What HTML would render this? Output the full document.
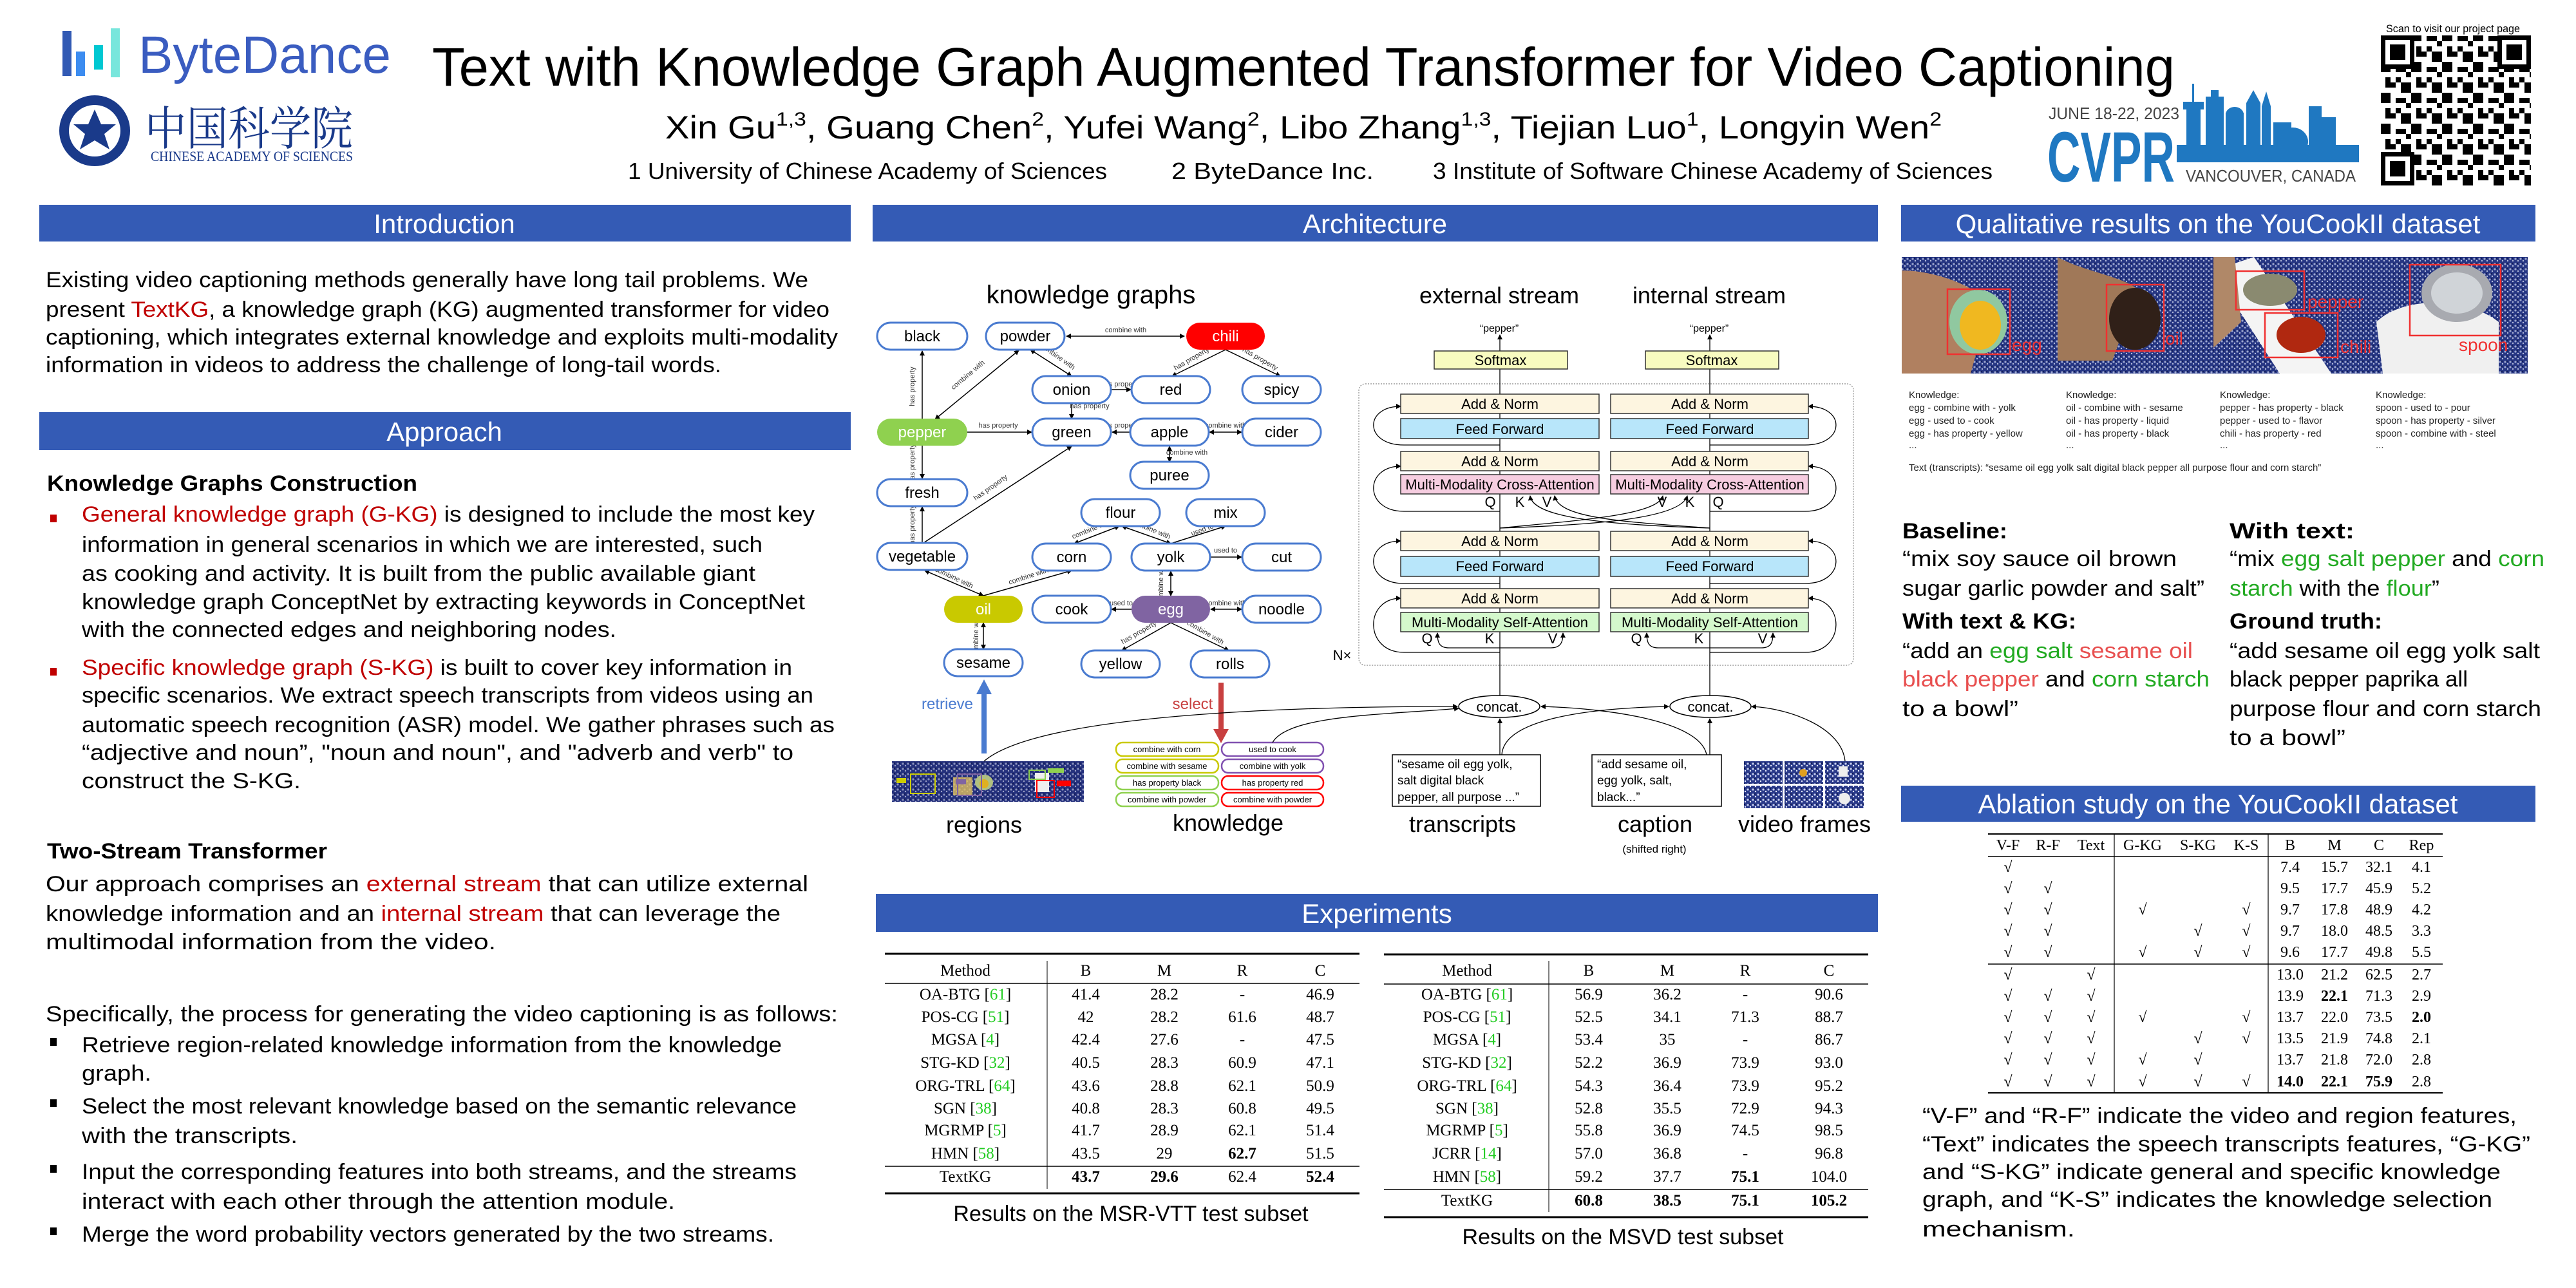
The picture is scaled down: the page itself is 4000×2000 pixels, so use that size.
<!DOCTYPE html>
<html><head><meta charset="utf-8">
<style>
html,body{margin:0;padding:0;background:#fff;}
svg{display:block;}
.s{font-family:"Liberation Sans",Arial,sans-serif;}
.sf{font-family:"Liberation Serif","Times New Roman",serif;}
.body{font-size:34px;fill:#000;}
.hd{font-size:42px;fill:#fff;}
.red{fill:#c00000;}
.grn{fill:#22aa22;}
.sal{fill:#e85050;}
.el{font-size:11px;fill:#333;}
.nd{font-size:24px;}
.blk{font-size:22px;fill:#000;}
.tb{font-size:25px;}
.cite{fill:#22cc22;}
</style></head>
<body>
<svg width="4000" height="2000" viewBox="0 0 4000 2000" xmlns="http://www.w3.org/2000/svg">
<defs>
<marker id="ar" markerWidth="8" markerHeight="8" refX="7" refY="4" orient="auto" markerUnits="userSpaceOnUse"><path d="M0,0 L8,4 L0,8 z" fill="#000"/></marker>
<marker id="as" markerWidth="8" markerHeight="8" refX="1" refY="4" orient="auto" markerUnits="userSpaceOnUse"><path d="M8,0 L0,4 L8,8 z" fill="#000"/></marker>
<pattern id="dots" width="8" height="8" patternUnits="userSpaceOnUse"><rect width="8" height="8" fill="#2a3a8a"/><circle cx="2" cy="2" r="1.6" fill="#c8d0f0"/><circle cx="6" cy="5" r="1.2" fill="#e8ecff"/><rect x="4" y="0" width="2" height="2" fill="#101a50"/></pattern>
<pattern id="qr" width="48" height="48" patternUnits="userSpaceOnUse"><rect width="48" height="48" fill="#fff"/><rect x="0" y="0" width="16" height="16" fill="#000"/><rect x="24" y="8" width="16" height="8" fill="#000"/><rect x="8" y="24" width="8" height="16" fill="#000"/><rect x="32" y="32" width="16" height="16" fill="#000"/><rect x="16" y="32" width="8" height="8" fill="#000"/><rect x="40" y="16" width="8" height="8" fill="#000"/><rect x="24" y="24" width="8" height="8" fill="#000"/></pattern>
</defs>

<!-- ===== HEADER ===== -->
<g>
<rect x="97" y="48" width="14" height="70" fill="#325ab4"/>
<rect x="118" y="80" width="14" height="38" fill="#3c8cf0"/>
<rect x="146" y="70" width="14" height="38" fill="#00c8d2"/>
<rect x="172" y="44" width="14" height="76" fill="#78e6dc"/>
<text x="215" y="113" class="s" font-size="82" fill="#3a5cc0" textLength="392" lengthAdjust="spacingAndGlyphs">ByteDance</text>
<circle cx="147" cy="203" r="55" fill="#1a3a8a"/>
<circle cx="147" cy="203" r="40" fill="#fff"/>
<path d="M147,170 L157,193 L180,193 L162,208 L170,232 L147,218 L124,232 L132,208 L114,193 L137,193 z" fill="#1a3a8a"/>
<text x="225" y="225" font-family="'Noto Serif CJK SC','Noto Sans CJK SC',serif" font-size="72" fill="#1a3a8a" textLength="323" lengthAdjust="spacingAndGlyphs">中国科学院</text>
<text x="234" y="250" class="sf" font-size="22" fill="#1a3a8a" textLength="314" lengthAdjust="spacingAndGlyphs">CHINESE ACADEMY OF SCIENCES</text>
</g>
<text x="671" y="133" class="s" font-size="84" fill="#000" textLength="2706" lengthAdjust="spacingAndGlyphs">Text with Knowledge Graph Augmented Transformer for Video Captioning</text>
<text x="1033" y="215" class="s" font-size="50" fill="#000" textLength="1982" lengthAdjust="spacingAndGlyphs">Xin Gu<tspan font-size="30" dy="-20">1,3</tspan><tspan dy="20">, Guang Chen</tspan><tspan font-size="30" dy="-20">2</tspan><tspan dy="20">, Yufei Wang</tspan><tspan font-size="30" dy="-20">2</tspan><tspan dy="20">, Libo Zhang</tspan><tspan font-size="30" dy="-20">1,3</tspan><tspan dy="20">, Tiejian Luo</tspan><tspan font-size="30" dy="-20">1</tspan><tspan dy="20">, Longyin Wen</tspan><tspan font-size="30" dy="-20">2</tspan></text>
<text x="975" y="278" class="s" font-size="36" textLength="744" lengthAdjust="spacingAndGlyphs">1 University of Chinese Academy of Sciences</text>
<text x="1819" y="278" class="s" font-size="36" textLength="314" lengthAdjust="spacingAndGlyphs">2 ByteDance Inc.</text>
<text x="2225" y="278" class="s" font-size="36" textLength="869" lengthAdjust="spacingAndGlyphs">3 Institute of Software Chinese Academy of Sciences</text>
<!-- CVPR -->
<text x="3181" y="185" class="s" font-size="26" fill="#444" textLength="203" lengthAdjust="spacingAndGlyphs">JUNE 18-22, 2023</text>
<text x="3179" y="282" class="s" font-size="110" font-weight="bold" fill="#1f78c1" textLength="198" lengthAdjust="spacingAndGlyphs">CVPR</text>
<g fill="#1f78c1">
<rect x="3395" y="170" width="22" height="82"/><rect x="3390" y="158" width="32" height="12"/><rect x="3404" y="130" width="3" height="28"/>
<rect x="3425" y="150" width="28" height="102"/><rect x="3433" y="140" width="12" height="10"/>
<rect x="3456" y="175" width="28" height="77"/><ellipse cx="3470" cy="178" rx="14" ry="12"/>
<rect x="3488" y="160" width="22" height="92"/><path d="M3488,160 L3499,140 L3510,160z"/>
<rect x="3512" y="165" width="14" height="87"/><path d="M3512,165 L3519,142 L3526,165z"/>
<rect x="3530" y="190" width="28" height="62"/>
<ellipse cx="3560" cy="220" rx="24" ry="22"/>
<rect x="3585" y="165" width="20" height="87"/><rect x="3605" y="182" width="22" height="70"/>
<rect x="3380" y="225" width="283" height="27"/>
<path d="M3380,252 L3400,222 L3420,252z"/>
</g>
<text x="3394" y="282" class="s" font-size="26" fill="#444" textLength="264" lengthAdjust="spacingAndGlyphs">VANCOUVER, CANADA</text>
<!-- QR -->
<text x="3705" y="50" class="s" font-size="17" fill="#000" textLength="208" lengthAdjust="spacingAndGlyphs">Scan to visit our project page</text>
<rect x="3697" y="55" width="233" height="233" fill="url(#qr)"/>
<g fill="#000"><rect x="3697" y="55" width="52" height="52"/><rect x="3878" y="55" width="52" height="52"/><rect x="3697" y="236" width="52" height="52"/></g>
<g fill="#fff"><rect x="3704" y="62" width="38" height="38"/><rect x="3885" y="62" width="38" height="38"/><rect x="3704" y="243" width="38" height="38"/></g>
<g fill="#000"><rect x="3711" y="69" width="24" height="24"/><rect x="3892" y="69" width="24" height="24"/><rect x="3711" y="250" width="24" height="24"/></g>

<!-- ===== SECTION BARS ===== -->
<g fill="#345bb5">
<rect x="61" y="318" width="1260" height="57"/>
<rect x="61" y="640" width="1260" height="59"/>
<rect x="1355" y="318" width="1561" height="57"/>
<rect x="2952" y="318" width="985" height="57"/>
<rect x="1360" y="1388" width="1556" height="59"/>
<rect x="2952" y="1220" width="985" height="56"/>
</g>
<g class="s hd" text-anchor="middle">
<text x="690" y="362">Introduction</text>
<text x="690" y="685">Approach</text>
<text x="2135" y="362">Architecture</text>
<text x="3444" y="362">Qualitative results on the YouCookII dataset</text>
<text x="2138" y="1433">Experiments</text>
<text x="3444" y="1263">Ablation study on the YouCookII dataset</text>
</g>

<!-- ===== LEFT COLUMN ===== -->
<g class="s body">
<text x="71" y="446" textLength="1184" lengthAdjust="spacingAndGlyphs">Existing video captioning methods generally have long tail problems. We</text>
<text x="71" y="492" textLength="1217" lengthAdjust="spacingAndGlyphs">present <tspan class="red">TextKG</tspan>, a knowledge graph (KG) augmented transformer for video</text>
<text x="71" y="535" textLength="1230" lengthAdjust="spacingAndGlyphs">captioning, which integrates external knowledge and exploits multi-modality</text>
<text x="71" y="578" textLength="1049" lengthAdjust="spacingAndGlyphs">information in videos to address the challenge of long-tail words.</text>

<text x="73" y="762" font-weight="bold" textLength="575" lengthAdjust="spacingAndGlyphs">Knowledge Graphs Construction</text>
<rect x="78" y="799" width="10" height="12" fill="#c00000"/>
<text x="127" y="810" textLength="1138" lengthAdjust="spacingAndGlyphs"><tspan class="red">General knowledge graph (G-KG)</tspan> is designed to include the most key</text>
<text x="127" y="857" textLength="1057" lengthAdjust="spacingAndGlyphs">information in general scenarios in which we are interested, such</text>
<text x="127" y="902" textLength="1046" lengthAdjust="spacingAndGlyphs">as cooking and activity. It is built from the public available giant</text>
<text x="127" y="946" textLength="1123" lengthAdjust="spacingAndGlyphs">knowledge graph ConceptNet by extracting keywords in ConceptNet</text>
<text x="127" y="989" textLength="830" lengthAdjust="spacingAndGlyphs">with the connected edges and neighboring nodes.</text>
<rect x="78" y="1037" width="10" height="12" fill="#c00000"/>
<text x="127" y="1048" textLength="1103" lengthAdjust="spacingAndGlyphs"><tspan class="red">Specific knowledge graph (S-KG)</tspan> is built to cover key information in</text>
<text x="127" y="1091" textLength="1136" lengthAdjust="spacingAndGlyphs">specific scenarios. We extract speech transcripts from videos using an</text>
<text x="127" y="1137" textLength="1169" lengthAdjust="spacingAndGlyphs">automatic speech recognition (ASR) model. We gather phrases such as</text>
<text x="127" y="1180" textLength="1105" lengthAdjust="spacingAndGlyphs">“adjective and noun”, "noun and noun", and "adverb and verb" to</text>
<text x="127" y="1224" textLength="340" lengthAdjust="spacingAndGlyphs">construct the S-KG.</text>

<text x="73" y="1333" font-weight="bold" textLength="435" lengthAdjust="spacingAndGlyphs">Two-Stream Transformer</text>
<text x="71" y="1384" textLength="1184" lengthAdjust="spacingAndGlyphs">Our approach comprises an <tspan class="red">external stream</tspan> that can utilize external</text>
<text x="71" y="1430" textLength="1141" lengthAdjust="spacingAndGlyphs">knowledge information and an <tspan class="red">internal stream</tspan> that can leverage the</text>
<text x="71" y="1474" textLength="699" lengthAdjust="spacingAndGlyphs">multimodal information from the video.</text>

<text x="71" y="1586" textLength="1230" lengthAdjust="spacingAndGlyphs">Specifically, the process for generating the video captioning is as follows:</text>
<rect x="78" y="1612" width="10" height="12" fill="#000"/>
<text x="127" y="1634" textLength="1087" lengthAdjust="spacingAndGlyphs">Retrieve region-related knowledge information from the knowledge</text>
<text x="127" y="1678" textLength="108" lengthAdjust="spacingAndGlyphs">graph.</text>
<rect x="78" y="1707" width="10" height="12" fill="#000"/>
<text x="127" y="1729" textLength="1110" lengthAdjust="spacingAndGlyphs">Select the most relevant knowledge based on the semantic relevance</text>
<text x="127" y="1775" textLength="335" lengthAdjust="spacingAndGlyphs">with the transcripts.</text>
<rect x="78" y="1809" width="10" height="12" fill="#000"/>
<text x="127" y="1831" textLength="1110" lengthAdjust="spacingAndGlyphs">Input the corresponding features into both streams, and the streams</text>
<text x="127" y="1877" textLength="921" lengthAdjust="spacingAndGlyphs">interact with each other through the attention module.</text>
<rect x="78" y="1906" width="10" height="12" fill="#000"/>
<text x="127" y="1928" textLength="1075" lengthAdjust="spacingAndGlyphs">Merge the word probability vectors generated by the two streams.</text>
</g>

<!-- ===== ARCHITECTURE: KG ===== -->
<text x="1694" y="471" class="s" font-size="40" text-anchor="middle">knowledge graphs</text>
<g stroke="#000" stroke-width="1.5" fill="none">
<line x1="1656" y1="522" x2="1839" y2="522" marker-start="url(#as)" marker-end="url(#ar)"/>
<line x1="1432" y1="545" x2="1432" y2="650" marker-start="url(#as)"/>
<line x1="1452" y1="651" x2="1582" y2="544" marker-start="url(#as)" marker-end="url(#ar)"/>
<line x1="1600" y1="543" x2="1664" y2="584" marker-start="url(#as)" marker-end="url(#ar)"/>
<line x1="1903" y1="543" x2="1820" y2="584" marker-end="url(#ar)"/>
<line x1="1903" y1="543" x2="1988" y2="584" marker-end="url(#ar)"/>
<line x1="1725" y1="605" x2="1756" y2="605" marker-end="url(#ar)"/>
<line x1="1664" y1="626" x2="1664" y2="650" marker-end="url(#ar)"/>
<line x1="1502" y1="671" x2="1602" y2="671" marker-end="url(#ar)"/>
<line x1="1754" y1="671" x2="1727" y2="671" marker-end="url(#ar)"/>
<line x1="1878" y1="671" x2="1928" y2="671" marker-start="url(#as)" marker-end="url(#ar)"/>
<line x1="1816" y1="693" x2="1816" y2="717" marker-start="url(#as)" marker-end="url(#ar)"/>
<line x1="1432" y1="692" x2="1432" y2="743" marker-end="url(#ar)"/>
<line x1="1432" y1="843" x2="1432" y2="787" marker-end="url(#ar)"/>
<line x1="1434" y1="843" x2="1664" y2="693" marker-end="url(#ar)"/>
<line x1="1738" y1="817" x2="1668" y2="844" marker-start="url(#as)" marker-end="url(#ar)"/>
<line x1="1742" y1="817" x2="1818" y2="844" marker-start="url(#as)" marker-end="url(#ar)"/>
<line x1="1818" y1="844" x2="1903" y2="817" marker-end="url(#ar)"/>
<line x1="1880" y1="865" x2="1928" y2="865" marker-end="url(#ar)"/>
<line x1="1436" y1="886" x2="1527" y2="925" marker-start="url(#as)" marker-end="url(#ar)"/>
<line x1="1527" y1="925" x2="1664" y2="886" marker-end="url(#ar)"/>
<line x1="1818" y1="925" x2="1818" y2="887" marker-start="url(#as)" marker-end="url(#ar)"/>
<line x1="1757" y1="946" x2="1726" y2="946" marker-end="url(#ar)"/>
<line x1="1880" y1="946" x2="1928" y2="946" marker-start="url(#as)" marker-end="url(#ar)"/>
<line x1="1527" y1="967" x2="1527" y2="1008" marker-start="url(#as)" marker-end="url(#ar)"/>
<line x1="1818" y1="967" x2="1742" y2="1010" marker-end="url(#ar)"/>
<line x1="1818" y1="967" x2="1908" y2="1010" marker-end="url(#ar)"/>
</g>
<g class="s el" text-anchor="middle">
<text x="1748" y="516">combine with</text>
<text x="1420" y="600" transform="rotate(-90 1420 600)">has property</text>
<text x="1505" y="585" transform="rotate(-40 1505 585)">combine with</text>
<text x="1640" y="556" transform="rotate(35 1640 556)">combine with</text>
<text x="1852" y="560" transform="rotate(-30 1852 560)">has property</text>
<text x="1955" y="560" transform="rotate(30 1955 560)">has property</text>
<text x="1740" y="600">has property</text>
<text x="1692" y="634">has property</text>
<text x="1550" y="664">has property</text>
<text x="1740" y="664">has property</text>
<text x="1903" y="664">combine with</text>
<text x="1843" y="706">combine with</text>
<text x="1420" y="720" transform="rotate(-90 1420 720)">has property</text>
<text x="1420" y="815" transform="rotate(-90 1420 815)">has property</text>
<text x="1540" y="760" transform="rotate(-35 1540 760)">has property</text>
<text x="1696" y="825" transform="rotate(-22 1696 825)">combine with</text>
<text x="1786" y="825" transform="rotate(22 1786 825)">combine with</text>
<text x="1868" y="826" transform="rotate(-20 1868 826)">used to</text>
<text x="1903" y="858">used to</text>
<text x="1480" y="900" transform="rotate(25 1480 900)">combine with</text>
<text x="1598" y="898" transform="rotate(-18 1598 898)">combine with</text>
<text x="1806" y="906" transform="rotate(-90 1806 906)">combine with</text>
<text x="1741" y="940">used to</text>
<text x="1903" y="940">combine with</text>
<text x="1519" y="987" transform="rotate(-90 1519 987)">combine with</text>
<text x="1770" y="985" transform="rotate(-30 1770 985)">has property</text>
<text x="1870" y="985" transform="rotate(30 1870 985)">combine with</text>
</g>
<g class="s nd" text-anchor="middle" stroke-width="3">
<g stroke="#4a7bd0" fill="#fff">
<rect x="1362" y="501" width="140" height="42" rx="21"/>
<rect x="1531" y="501" width="122" height="42" rx="21"/>
<rect x="1603" y="584" width="122" height="42" rx="21"/>
<rect x="1757" y="584" width="122" height="42" rx="21"/>
<rect x="1929" y="584" width="122" height="42" rx="21"/>
<rect x="1603" y="650" width="122" height="42" rx="21"/>
<rect x="1755" y="650" width="122" height="42" rx="21"/>
<rect x="1929" y="650" width="122" height="42" rx="21"/>
<rect x="1755" y="717" width="122" height="42" rx="21"/>
<rect x="1362" y="744" width="140" height="42" rx="21"/>
<rect x="1679" y="775" width="122" height="42" rx="21"/>
<rect x="1842" y="775" width="122" height="42" rx="21"/>
<rect x="1362" y="843" width="140" height="42" rx="21"/>
<rect x="1603" y="844" width="122" height="42" rx="21"/>
<rect x="1757" y="844" width="122" height="42" rx="21"/>
<rect x="1929" y="844" width="122" height="42" rx="21"/>
<rect x="1603" y="925" width="122" height="42" rx="21"/>
<rect x="1929" y="925" width="122" height="42" rx="21"/>
<rect x="1466" y="1008" width="122" height="42" rx="21"/>
<rect x="1679" y="1010" width="122" height="42" rx="21"/>
<rect x="1849" y="1010" width="122" height="42" rx="21"/>
</g>
<rect x="1842" y="501" width="122" height="42" rx="21" fill="#ff0000" stroke="none"/>
<rect x="1362" y="650" width="140" height="42" rx="21" fill="#8fd14f" stroke="none"/>
<rect x="1466" y="925" width="122" height="42" rx="21" fill="#c9c900" stroke="none"/>
<rect x="1757" y="925" width="122" height="42" rx="21" fill="#8064a2" stroke="none"/>
<g fill="#000" stroke="none">
<text x="1432" y="530">black</text><text x="1592" y="530">powder</text>
<text x="1664" y="613">onion</text><text x="1818" y="613">red</text><text x="1990" y="613">spicy</text>
<text x="1664" y="679">green</text><text x="1816" y="679">apple</text><text x="1990" y="679">cider</text>
<text x="1816" y="746">puree</text><text x="1432" y="773">fresh</text>
<text x="1740" y="804">flour</text><text x="1903" y="804">mix</text>
<text x="1432" y="872">vegetable</text><text x="1664" y="873">corn</text><text x="1818" y="873">yolk</text><text x="1990" y="873">cut</text>
<text x="1664" y="954">cook</text><text x="1990" y="954">noodle</text>
<text x="1527" y="1037">sesame</text><text x="1740" y="1039">yellow</text><text x="1910" y="1039">rolls</text>
</g>
<g fill="#fff" stroke="none">
<text x="1903" y="530">chili</text><text x="1432" y="679">pepper</text><text x="1527" y="954">oil</text><text x="1818" y="954">egg</text>
</g>
</g>
<!-- retrieve/select -->
<rect x="1524" y="1075" width="8" height="95" fill="#4a7bd0"/>
<path d="M1516,1078 L1528,1055 L1540,1078z" fill="#4a7bd0"/>
<text x="1471" y="1101" class="s" font-size="24" fill="#4a7bd0" text-anchor="middle">retrieve</text>
<rect x="1892" y="1060" width="8" height="75" fill="#c84040"/>
<path d="M1884,1132 L1896,1154 L1908,1132z" fill="#c84040"/>
<text x="1852" y="1101" class="s" font-size="24" fill="#c84040" text-anchor="middle">select</text>
<!-- regions -->
<rect x="1385" y="1182" width="298" height="63" fill="url(#dots)"/>
<rect x="1385" y="1182" width="298" height="63" fill="#1a2060" opacity="0.35"/>
<rect x="1480" y="1207" width="30" height="28" fill="#e0c060" opacity="0.8"/>
<ellipse cx="1528" cy="1215" rx="14" ry="12" fill="#b0c080"/><circle cx="1528" cy="1217" r="7" fill="#e0b020"/>
<rect x="1607" y="1200" width="22" height="30" fill="#eee"/>
<rect x="1414" y="1202" width="38" height="30" fill="none" stroke="#cccc00" stroke-width="2"/>
<rect x="1392" y="1208" width="15" height="8" fill="#cccc00"/>
<rect x="1487" y="1202" width="37" height="33" fill="none" stroke="#8064a2" stroke-width="2"/>
<rect x="1484" y="1210" width="16" height="8" fill="#8064a2"/>
<rect x="1598" y="1196" width="25" height="14" fill="none" stroke="#8fd14f" stroke-width="2"/>
<rect x="1627" y="1193" width="25" height="7" fill="#8fd14f"/>
<rect x="1610" y="1212" width="27" height="26" fill="none" stroke="#f00" stroke-width="2"/>
<rect x="1641" y="1212" width="22" height="9" fill="#f00"/>
<text x="1528" y="1293" class="s" font-size="36" text-anchor="middle">regions</text>
<!-- knowledge boxes -->
<g stroke-width="2.5" fill="#fff">
<rect x="1733" y="1153" width="159" height="21" rx="10" stroke="#c9c900"/>
<rect x="1733" y="1179" width="159" height="21" rx="10" stroke="#c9c900"/>
<rect x="1733" y="1205" width="159" height="21" rx="10" stroke="#8fd14f"/>
<rect x="1733" y="1231" width="159" height="21" rx="10" stroke="#8fd14f"/>
<rect x="1897" y="1153" width="158" height="21" rx="10" stroke="#8050b0"/>
<rect x="1897" y="1179" width="158" height="21" rx="10" stroke="#8050b0"/>
<rect x="1897" y="1205" width="158" height="21" rx="10" stroke="#f00"/>
<rect x="1897" y="1231" width="158" height="21" rx="10" stroke="#f00"/>
</g>
<g class="s" font-size="13" text-anchor="middle">
<text x="1812" y="1168">combine with corn</text><text x="1812" y="1194">combine with sesame</text><text x="1812" y="1220">has property black</text><text x="1812" y="1246">combine with powder</text>
<text x="1976" y="1168">used to cook</text><text x="1976" y="1194">combine with yolk</text><text x="1976" y="1220">has property red</text><text x="1976" y="1246">combine with powder</text>
</g>
<text x="1907" y="1290" class="s" font-size="36" text-anchor="middle">knowledge</text>

<!-- ===== TRANSFORMER ===== -->
<text x="2328" y="471" class="s" font-size="36" text-anchor="middle">external stream</text>
<text x="2654" y="471" class="s" font-size="36" text-anchor="middle">internal stream</text>
<text x="2328" y="515" class="s" font-size="16" text-anchor="middle">“pepper”</text>
<text x="2654" y="515" class="s" font-size="16" text-anchor="middle">“pepper”</text>
<rect x="2110" y="596" width="768" height="437" rx="10" fill="none" stroke="#888" stroke-width="1.2" stroke-dasharray="2,2"/>
<text x="2084" y="1025" class="s" font-size="22" text-anchor="middle">N×</text>
<g stroke="#000" stroke-width="1.3" fill="none">
<line x1="2329" y1="1080" x2="2329" y2="573"/>
<line x1="2655" y1="1080" x2="2655" y2="573"/>
<line x1="2329" y1="545" x2="2329" y2="520" marker-end="url(#ar)"/>
<line x1="2655" y1="545" x2="2655" y2="520" marker-end="url(#ar)"/>
<path d="M2329,1013 L2180,1013 C2118,1013 2118,929 2175,929" marker-end="url(#ar)"/>
<path d="M2329,906 L2180,906 C2118,906 2118,840 2175,840" marker-end="url(#ar)"/>
<path d="M2329,794 L2180,794 C2118,794 2118,724 2175,724" marker-end="url(#ar)"/>
<path d="M2329,691 L2180,691 C2118,691 2118,631 2175,631" marker-end="url(#ar)"/>
<path d="M2655,1013 L2803,1013 C2866,1013 2866,929 2808,929" marker-end="url(#ar)"/>
<path d="M2655,906 L2803,906 C2866,906 2866,840 2808,840" marker-end="url(#ar)"/>
<path d="M2655,794 L2803,794 C2866,794 2866,724 2808,724" marker-end="url(#ar)"/>
<path d="M2655,691 L2803,691 C2866,691 2866,631 2808,631" marker-end="url(#ar)"/>
<path d="M2329,1006 L2250,1006 C2235,1006 2232,998 2232,983" marker-end="url(#ar)"/>
<path d="M2329,1006 L2408,1006 C2423,1006 2427,998 2427,983" marker-end="url(#ar)"/>
<path d="M2655,1006 L2575,1006 C2560,1006 2557,998 2557,983" marker-end="url(#ar)"/>
<path d="M2655,1006 L2735,1006 C2750,1006 2753,998 2753,983" marker-end="url(#ar)"/>
<path d="M2329,820 C2450,808 2575,800 2582,770" marker-end="url(#ar)"/>
<path d="M2329,820 C2480,815 2610,805 2620,770" marker-end="url(#ar)"/>
<path d="M2655,820 C2520,810 2420,805 2414,770" marker-end="url(#ar)"/>
<path d="M2655,820 C2500,815 2380,805 2376,770" marker-end="url(#ar)"/>
<line x1="2329" y1="1172" x2="2329" y2="1116" marker-end="url(#ar)"/>
<line x1="2655" y1="1172" x2="2655" y2="1116" marker-end="url(#ar)"/>
<path d="M1528,1182 C1600,1120 1900,1097 2263,1097" marker-end="url(#ar)"/>
<path d="M1976,1153 C2000,1110 2150,1110 2265,1100" marker-end="url(#ar)"/>
<path d="M2332,1172 C2335,1120 2450,1100 2591,1097" marker-end="url(#ar)"/>
<path d="M2650,1172 C2640,1120 2500,1100 2393,1097" marker-end="url(#ar)"/>
<path d="M2865,1182 C2860,1130 2780,1100 2720,1097" marker-end="url(#ar)"/>
</g>
<g stroke="#333" stroke-width="1.5">
<rect x="2227" y="545" width="207" height="28" fill="#f8fbc0"/>
<rect x="2555" y="545" width="207" height="28" fill="#f8fbc0"/>
<rect x="2175" y="612" width="308" height="30" fill="#fdf5e0"/>
<rect x="2501" y="612" width="307" height="30" fill="#fdf5e0"/>
<rect x="2175" y="650" width="308" height="31" fill="#b8e6fa"/>
<rect x="2501" y="650" width="307" height="31" fill="#b8e6fa"/>
<rect x="2175" y="701" width="308" height="30" fill="#fdf5e0"/>
<rect x="2501" y="701" width="307" height="30" fill="#fdf5e0"/>
<rect x="2175" y="737" width="308" height="30" fill="#f6cde0"/>
<rect x="2501" y="737" width="307" height="30" fill="#f6cde0"/>
<rect x="2175" y="825" width="308" height="30" fill="#fdf5e0"/>
<rect x="2501" y="825" width="307" height="30" fill="#fdf5e0"/>
<rect x="2175" y="864" width="308" height="31" fill="#b8e6fa"/>
<rect x="2501" y="864" width="307" height="31" fill="#b8e6fa"/>
<rect x="2175" y="914" width="308" height="30" fill="#fdf5e0"/>
<rect x="2501" y="914" width="307" height="30" fill="#fdf5e0"/>
<rect x="2175" y="951" width="308" height="30" fill="#d4f8cc"/>
<rect x="2501" y="951" width="307" height="30" fill="#d4f8cc"/>
</g>
<g class="s blk" text-anchor="middle">
<text x="2330" y="567">Softmax</text><text x="2658" y="567">Softmax</text>
<text x="2329" y="635">Add &amp; Norm</text><text x="2655" y="635">Add &amp; Norm</text>
<text x="2329" y="674">Feed Forward</text><text x="2655" y="674">Feed Forward</text>
<text x="2329" y="724">Add &amp; Norm</text><text x="2655" y="724">Add &amp; Norm</text>
<text x="2329" y="760">Multi-Modality Cross-Attention</text><text x="2655" y="760">Multi-Modality Cross-Attention</text>
<text x="2329" y="848">Add &amp; Norm</text><text x="2655" y="848">Add &amp; Norm</text>
<text x="2329" y="887">Feed Forward</text><text x="2655" y="887">Feed Forward</text>
<text x="2329" y="937">Add &amp; Norm</text><text x="2655" y="937">Add &amp; Norm</text>
<text x="2329" y="974">Multi-Modality Self-Attention</text><text x="2655" y="974">Multi-Modality Self-Attention</text>
<text x="2314" y="787">Q</text><text x="2360" y="787">K</text><text x="2402" y="787">V</text>
<text x="2581" y="787">V</text><text x="2624" y="787">K</text><text x="2668" y="787">Q</text>
<text x="2216" y="999">Q</text><text x="2313" y="999">K</text><text x="2411" y="999">V</text>
<text x="2541" y="999">Q</text><text x="2638" y="999">K</text><text x="2737" y="999">V</text>
</g>
<ellipse cx="2328" cy="1097" rx="63" ry="17" fill="#fff" stroke="#000" stroke-width="1.5"/>
<ellipse cx="2656" cy="1097" rx="63" ry="17" fill="#fff" stroke="#000" stroke-width="1.5"/>
<text x="2328" y="1105" class="s blk" text-anchor="middle">concat.</text>
<text x="2656" y="1105" class="s blk" text-anchor="middle">concat.</text>
<rect x="2162" y="1172" width="230" height="80" fill="#fff" stroke="#000" stroke-width="1.5"/>
<rect x="2472" y="1172" width="201" height="80" fill="#fff" stroke="#000" stroke-width="1.5"/>
<g class="s" font-size="19">
<text x="2170" y="1193">“sesame oil egg yolk,</text><text x="2170" y="1218">salt digital black</text><text x="2170" y="1244">pepper, all purpose ...”</text>
<text x="2480" y="1193">“add sesame oil,</text><text x="2480" y="1218">egg yolk, salt,</text><text x="2480" y="1244">black...”</text>
</g>
<g>
<rect x="2708" y="1182" width="60" height="35" fill="url(#dots)"/><rect x="2771" y="1182" width="60" height="35" fill="url(#dots)"/><rect x="2834" y="1182" width="60" height="35" fill="url(#dots)"/>
<rect x="2708" y="1220" width="60" height="35" fill="url(#dots)"/><rect x="2771" y="1220" width="60" height="35" fill="url(#dots)"/><rect x="2834" y="1220" width="60" height="35" fill="url(#dots)"/>
<circle cx="2800" cy="1200" r="6" fill="#e0a020"/><rect x="2855" y="1190" width="14" height="16" fill="#eee"/><circle cx="2864" cy="1240" r="9" fill="#eee"/>
</g>
<text x="2271" y="1292" class="s" font-size="36" text-anchor="middle">transcripts</text>
<text x="2570" y="1292" class="s" font-size="36" text-anchor="middle">caption</text>
<text x="2569" y="1324" class="s" font-size="17" text-anchor="middle">(shifted right)</text>
<text x="2802" y="1292" class="s" font-size="36" text-anchor="middle">video frames</text>

<!-- ===== QUALITATIVE ===== -->
<g>
<rect x="2953" y="399" width="972" height="181" fill="url(#dots)"/>
<rect x="2953" y="399" width="972" height="181" fill="#1a2a70" opacity="0.25"/>
<path d="M2953,420 C3000,420 3060,440 3090,470 L3060,580 L2953,580z" fill="#b08060"/>
<ellipse cx="3072" cy="500" rx="45" ry="50" fill="#90c8a0"/><ellipse cx="3075" cy="505" rx="32" ry="38" fill="#f0b820"/>
<path d="M3195,399 C3230,420 3300,430 3320,450 L3280,560 L3195,560z" fill="#a07858"/>
<ellipse cx="3315" cy="495" rx="40" ry="48" fill="#302018"/>
<path d="M3437,420 L3500,399 L3620,580 L3540,580z" fill="#f4f4f4"/>
<path d="M3437,399 L3470,399 L3480,500 L3437,540z" fill="#b08868"/>
<ellipse cx="3525" cy="450" rx="42" ry="25" fill="#8a8a70"/>
<ellipse cx="3573" cy="520" rx="38" ry="28" fill="#b02810"/>
<path d="M3690,500 C3730,460 3830,460 3880,500 L3880,580 L3700,580z" fill="#f0f0f0"/>
<ellipse cx="3815" cy="455" rx="55" ry="45" fill="#a8aab0"/><ellipse cx="3815" cy="455" rx="40" ry="32" fill="#d0d4d8"/>
<g fill="none" stroke="#f03030" stroke-width="2.5">
<rect x="3024" y="449" width="97" height="101"/><rect x="3271" y="442" width="89" height="103"/>
<rect x="3472" y="421" width="106" height="60"/><rect x="3517" y="486" width="113" height="69"/>
<rect x="3742" y="411" width="141" height="110"/>
</g>
<g class="s" font-size="28" fill="#f03030">
<text x="3124" y="545">egg</text><text x="3362" y="535">oil</text><text x="3583" y="478">pepper</text><text x="3634" y="548">chili</text><text x="3818" y="545">spoon</text>
</g>
</g>
<g class="s" font-size="15" fill="#222">
<text x="2964" y="618">Knowledge:</text><text x="2964" y="638">egg - combine with - yolk</text><text x="2964" y="658">egg - used to - cook</text><text x="2964" y="678">egg - has property - yellow</text><text x="2964" y="696">...</text>
<text x="3208" y="618">Knowledge:</text><text x="3208" y="638">oil - combine with - sesame</text><text x="3208" y="658">oil - has property - liquid</text><text x="3208" y="678">oil - has property - black</text><text x="3208" y="696">...</text>
<text x="3447" y="618">Knowledge:</text><text x="3447" y="638">pepper - has property - black</text><text x="3447" y="658">pepper - used to - flavor</text><text x="3447" y="678">chili - has property - red</text><text x="3447" y="696">...</text>
<text x="3689" y="618">Knowledge:</text><text x="3689" y="638">spoon - used to - pour</text><text x="3689" y="658">spoon - has property - silver</text><text x="3689" y="678">spoon - combine with - steel</text><text x="3689" y="696">...</text>
<text x="2964" y="731">Text (transcripts): “sesame oil egg yolk salt digital black pepper all purpose flour and corn starch”</text>
</g>
<g class="s body">
<text x="2954" y="836" font-weight="bold" textLength="163" lengthAdjust="spacingAndGlyphs">Baseline:</text>
<text x="2954" y="879" textLength="426" lengthAdjust="spacingAndGlyphs">“mix soy sauce oil brown</text>
<text x="2954" y="925" textLength="469" lengthAdjust="spacingAndGlyphs">sugar garlic powder and salt”</text>
<text x="2954" y="976" font-weight="bold" textLength="270" lengthAdjust="spacingAndGlyphs">With text &amp; KG:</text>
<text x="2954" y="1022" textLength="451" lengthAdjust="spacingAndGlyphs">“add an <tspan class="grn">egg salt</tspan> <tspan class="sal">sesame oil</tspan></text>
<text x="2954" y="1066" textLength="477" lengthAdjust="spacingAndGlyphs"><tspan class="sal">black pepper</tspan> and <tspan class="grn">corn starch</tspan></text>
<text x="2954" y="1112" textLength="180" lengthAdjust="spacingAndGlyphs">to a bowl”</text>
<text x="3462" y="836" font-weight="bold" textLength="194" lengthAdjust="spacingAndGlyphs">With text:</text>
<text x="3462" y="879" textLength="489" lengthAdjust="spacingAndGlyphs">“mix <tspan class="grn">egg salt pepper</tspan> and <tspan class="grn">corn</tspan></text>
<text x="3462" y="925" textLength="326" lengthAdjust="spacingAndGlyphs"><tspan class="grn">starch</tspan> with the <tspan class="grn">flour</tspan>”</text>
<text x="3462" y="976" font-weight="bold" textLength="237" lengthAdjust="spacingAndGlyphs">Ground truth:</text>
<text x="3462" y="1022" textLength="482" lengthAdjust="spacingAndGlyphs">“add sesame oil egg yolk salt</text>
<text x="3462" y="1066" textLength="370" lengthAdjust="spacingAndGlyphs">black pepper paprika all</text>
<text x="3462" y="1112" textLength="484" lengthAdjust="spacingAndGlyphs">purpose flour and corn starch</text>
<text x="3462" y="1157" textLength="180" lengthAdjust="spacingAndGlyphs">to a bowl”</text>
</g>

<!-- ===== ABLATION TABLE ===== -->
<g stroke="#000">
<line x1="3087" y1="1295" x2="3793" y2="1295" stroke-width="2"/>
<line x1="3087" y1="1330" x2="3793" y2="1330" stroke-width="1.5"/>
<line x1="3087" y1="1497" x2="3793" y2="1497" stroke-width="1.5"/>
<line x1="3087" y1="1697" x2="3793" y2="1697" stroke-width="2"/>
<line x1="3283" y1="1295" x2="3283" y2="1697" stroke-width="1.2"/>
<line x1="3522" y1="1295" x2="3522" y2="1697" stroke-width="1.2"/>
</g>
<g class="sf" font-size="24" text-anchor="middle">
<text x="3118" y="1320">V-F</text><text x="3180" y="1320">R-F</text><text x="3247" y="1320">Text</text><text x="3327" y="1320">G-KG</text><text x="3413" y="1320">S-KG</text><text x="3488" y="1320">K-S</text><text x="3556" y="1320">B</text><text x="3625" y="1320">M</text><text x="3694" y="1320">C</text><text x="3760" y="1320">Rep</text>
<text x="3118" y="1354">√</text><text x="3556" y="1354">7.4</text><text x="3625" y="1354">15.7</text><text x="3694" y="1354">32.1</text><text x="3760" y="1354">4.1</text>
<text x="3118" y="1387">√</text><text x="3180" y="1387">√</text><text x="3556" y="1387">9.5</text><text x="3625" y="1387">17.7</text><text x="3694" y="1387">45.9</text><text x="3760" y="1387">5.2</text>
<text x="3118" y="1420">√</text><text x="3180" y="1420">√</text><text x="3327" y="1420">√</text><text x="3488" y="1420">√</text><text x="3556" y="1420">9.7</text><text x="3625" y="1420">17.8</text><text x="3694" y="1420">48.9</text><text x="3760" y="1420">4.2</text>
<text x="3118" y="1453">√</text><text x="3180" y="1453">√</text><text x="3413" y="1453">√</text><text x="3488" y="1453">√</text><text x="3556" y="1453">9.7</text><text x="3625" y="1453">18.0</text><text x="3694" y="1453">48.5</text><text x="3760" y="1453">3.3</text>
<text x="3118" y="1486">√</text><text x="3180" y="1486">√</text><text x="3327" y="1486">√</text><text x="3413" y="1486">√</text><text x="3488" y="1486">√</text><text x="3556" y="1486">9.6</text><text x="3625" y="1486">17.7</text><text x="3694" y="1486">49.8</text><text x="3760" y="1486">5.5</text>
<text x="3118" y="1521">√</text><text x="3247" y="1521">√</text><text x="3556" y="1521">13.0</text><text x="3625" y="1521">21.2</text><text x="3694" y="1521">62.5</text><text x="3760" y="1521">2.7</text>
<text x="3118" y="1554">√</text><text x="3180" y="1554">√</text><text x="3247" y="1554">√</text><text x="3556" y="1554">13.9</text><text x="3625" y="1554" font-weight="bold">22.1</text><text x="3694" y="1554">71.3</text><text x="3760" y="1554">2.9</text>
<text x="3118" y="1587">√</text><text x="3180" y="1587">√</text><text x="3247" y="1587">√</text><text x="3327" y="1587">√</text><text x="3488" y="1587">√</text><text x="3556" y="1587">13.7</text><text x="3625" y="1587">22.0</text><text x="3694" y="1587">73.5</text><text x="3760" y="1587" font-weight="bold">2.0</text>
<text x="3118" y="1620">√</text><text x="3180" y="1620">√</text><text x="3247" y="1620">√</text><text x="3413" y="1620">√</text><text x="3488" y="1620">√</text><text x="3556" y="1620">13.5</text><text x="3625" y="1620">21.9</text><text x="3694" y="1620">74.8</text><text x="3760" y="1620">2.1</text>
<text x="3118" y="1653">√</text><text x="3180" y="1653">√</text><text x="3247" y="1653">√</text><text x="3327" y="1653">√</text><text x="3413" y="1653">√</text><text x="3556" y="1653">13.7</text><text x="3625" y="1653">21.8</text><text x="3694" y="1653">72.0</text><text x="3760" y="1653">2.8</text>
<text x="3118" y="1687">√</text><text x="3180" y="1687">√</text><text x="3247" y="1687">√</text><text x="3327" y="1687">√</text><text x="3413" y="1687">√</text><text x="3488" y="1687">√</text><text x="3556" y="1687" font-weight="bold">14.0</text><text x="3625" y="1687" font-weight="bold">22.1</text><text x="3694" y="1687" font-weight="bold">75.9</text><text x="3760" y="1687">2.8</text>
</g>
<g class="s body">
<text x="2985" y="1744" textLength="923" lengthAdjust="spacingAndGlyphs">“V-F” and “R-F” indicate the video and region features,</text>
<text x="2985" y="1788" textLength="944" lengthAdjust="spacingAndGlyphs">“Text” indicates the speech transcripts features, “G-KG”</text>
<text x="2985" y="1831" textLength="898" lengthAdjust="spacingAndGlyphs">and “S-KG” indicate general and specific knowledge</text>
<text x="2985" y="1874" textLength="885" lengthAdjust="spacingAndGlyphs">graph, and “K-S” indicates the knowledge selection</text>
<text x="2985" y="1920" textLength="237" lengthAdjust="spacingAndGlyphs">mechanism.</text>
</g>

<!-- ===== EXPERIMENT TABLES ===== -->
<g stroke="#000">
<line x1="1374" y1="1481" x2="2111" y2="1481" stroke-width="3"/>
<line x1="1374" y1="1527" x2="2111" y2="1527" stroke-width="1.5"/>
<line x1="1374" y1="1811" x2="2111" y2="1811" stroke-width="1.5"/>
<line x1="1374" y1="1853" x2="2111" y2="1853" stroke-width="3"/>
<line x1="1626" y1="1492" x2="1626" y2="1846" stroke-width="1"/>
<line x1="2149" y1="1482" x2="2901" y2="1482" stroke-width="3"/>
<line x1="2149" y1="1528" x2="2901" y2="1528" stroke-width="1.5"/>
<line x1="2149" y1="1847" x2="2901" y2="1847" stroke-width="1.5"/>
<line x1="2149" y1="1890" x2="2901" y2="1890" stroke-width="3"/>
<line x1="2405" y1="1492" x2="2405" y2="1882" stroke-width="1"/>
</g>
<g class="sf tb" text-anchor="middle">
<text x="1499" y="1515">Method</text><text x="1686" y="1515">B</text><text x="1808" y="1515">M</text><text x="1929" y="1515">R</text><text x="2050" y="1515">C</text>
<text x="1499" y="1552">OA-BTG [<tspan class="cite">61</tspan>]</text><text x="1686" y="1552">41.4</text><text x="1808" y="1552">28.2</text><text x="1929" y="1552">-</text><text x="2050" y="1552">46.9</text>
<text x="1499" y="1587">POS-CG [<tspan class="cite">51</tspan>]</text><text x="1686" y="1587">42</text><text x="1808" y="1587">28.2</text><text x="1929" y="1587">61.6</text><text x="2050" y="1587">48.7</text>
<text x="1499" y="1622">MGSA [<tspan class="cite">4</tspan>]</text><text x="1686" y="1622">42.4</text><text x="1808" y="1622">27.6</text><text x="1929" y="1622">-</text><text x="2050" y="1622">47.5</text>
<text x="1499" y="1658">STG-KD [<tspan class="cite">32</tspan>]</text><text x="1686" y="1658">40.5</text><text x="1808" y="1658">28.3</text><text x="1929" y="1658">60.9</text><text x="2050" y="1658">47.1</text>
<text x="1499" y="1694">ORG-TRL [<tspan class="cite">64</tspan>]</text><text x="1686" y="1694">43.6</text><text x="1808" y="1694">28.8</text><text x="1929" y="1694">62.1</text><text x="2050" y="1694">50.9</text>
<text x="1499" y="1729">SGN [<tspan class="cite">38</tspan>]</text><text x="1686" y="1729">40.8</text><text x="1808" y="1729">28.3</text><text x="1929" y="1729">60.8</text><text x="2050" y="1729">49.5</text>
<text x="1499" y="1763">MGRMP [<tspan class="cite">5</tspan>]</text><text x="1686" y="1763">41.7</text><text x="1808" y="1763">28.9</text><text x="1929" y="1763">62.1</text><text x="2050" y="1763">51.4</text>
<text x="1499" y="1799">HMN [<tspan class="cite">58</tspan>]</text><text x="1686" y="1799">43.5</text><text x="1808" y="1799">29</text><text x="1929" y="1799" font-weight="bold">62.7</text><text x="2050" y="1799">51.5</text>
<text x="1499" y="1835">TextKG</text><text x="1686" y="1835" font-weight="bold">43.7</text><text x="1808" y="1835" font-weight="bold">29.6</text><text x="1929" y="1835">62.4</text><text x="2050" y="1835" font-weight="bold">52.4</text>

<text x="2278" y="1515">Method</text><text x="2467" y="1515">B</text><text x="2589" y="1515">M</text><text x="2710" y="1515">R</text><text x="2840" y="1515">C</text>
<text x="2278" y="1552">OA-BTG [<tspan class="cite">61</tspan>]</text><text x="2467" y="1552">56.9</text><text x="2589" y="1552">36.2</text><text x="2710" y="1552">-</text><text x="2840" y="1552">90.6</text>
<text x="2278" y="1587">POS-CG [<tspan class="cite">51</tspan>]</text><text x="2467" y="1587">52.5</text><text x="2589" y="1587">34.1</text><text x="2710" y="1587">71.3</text><text x="2840" y="1587">88.7</text>
<text x="2278" y="1622">MGSA [<tspan class="cite">4</tspan>]</text><text x="2467" y="1622">53.4</text><text x="2589" y="1622">35</text><text x="2710" y="1622">-</text><text x="2840" y="1622">86.7</text>
<text x="2278" y="1658">STG-KD [<tspan class="cite">32</tspan>]</text><text x="2467" y="1658">52.2</text><text x="2589" y="1658">36.9</text><text x="2710" y="1658">73.9</text><text x="2840" y="1658">93.0</text>
<text x="2278" y="1694">ORG-TRL [<tspan class="cite">64</tspan>]</text><text x="2467" y="1694">54.3</text><text x="2589" y="1694">36.4</text><text x="2710" y="1694">73.9</text><text x="2840" y="1694">95.2</text>
<text x="2278" y="1729">SGN [<tspan class="cite">38</tspan>]</text><text x="2467" y="1729">52.8</text><text x="2589" y="1729">35.5</text><text x="2710" y="1729">72.9</text><text x="2840" y="1729">94.3</text>
<text x="2278" y="1763">MGRMP [<tspan class="cite">5</tspan>]</text><text x="2467" y="1763">55.8</text><text x="2589" y="1763">36.9</text><text x="2710" y="1763">74.5</text><text x="2840" y="1763">98.5</text>
<text x="2278" y="1799">JCRR [<tspan class="cite">14</tspan>]</text><text x="2467" y="1799">57.0</text><text x="2589" y="1799">36.8</text><text x="2710" y="1799">-</text><text x="2840" y="1799">96.8</text>
<text x="2278" y="1835">HMN [<tspan class="cite">58</tspan>]</text><text x="2467" y="1835">59.2</text><text x="2589" y="1835">37.7</text><text x="2710" y="1835" font-weight="bold">75.1</text><text x="2840" y="1835">104.0</text>
<text x="2278" y="1872">TextKG</text><text x="2467" y="1872" font-weight="bold">60.8</text><text x="2589" y="1872" font-weight="bold">38.5</text><text x="2710" y="1872" font-weight="bold">75.1</text><text x="2840" y="1872" font-weight="bold">105.2</text>
</g>
<text x="1756" y="1896" class="s body" text-anchor="middle">Results on the MSR-VTT test subset</text>
<text x="2520" y="1932" class="s body" text-anchor="middle">Results on the MSVD test subset</text>
</svg>
</body></html>
